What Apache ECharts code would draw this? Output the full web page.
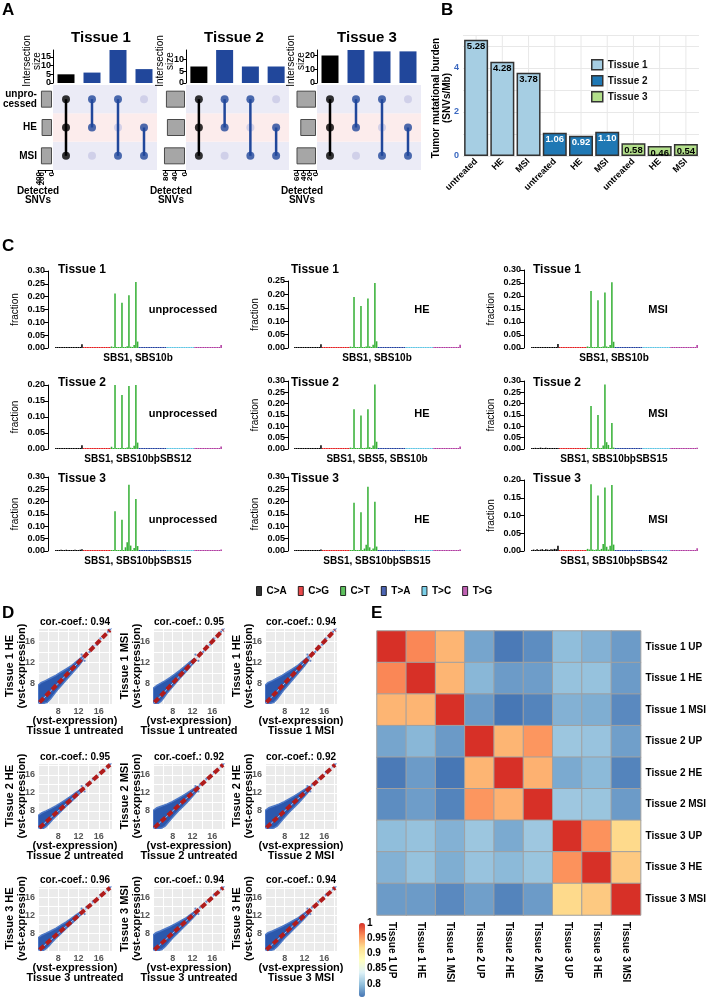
<!DOCTYPE html>
<html><head><meta charset="utf-8">
<title>Figure</title>
<script src="https://cdn.jsdelivr.net/npm/echarts@6.0.0/dist/echarts.min.js"></script>
<style>
html,body{margin:0;padding:0;background:#fff}
#fig{width:709px;height:998px}
</style>
</head>
<body>
<div id="fig"></div>
<script>
// ---------- data: A (upset) ----------
var setNames = ['unprocessed', 'HE', 'MSI'];
var rowLabels = ['unpro-\ncessed', 'HE', 'MSI'];
var comboSets = [[0, 1, 2], [0, 1], [0, 2], [1, 2]];
var interT1 = [5, 6, 19, 8];
var interT2 = [7, 14, 7, 7];
var interT3 = [20, 24, 23, 23];
var setT1 = [330, 310, 330];
var setT2 = [78, 74, 86];
var setT3 = [62, 50, 62];

// ---------- data: B (TMB) ----------
var catsB = ['untreated', 'HE', 'MSI', 'untreated', 'HE', 'MSI', 'untreated', 'HE', 'MSI'];
var tmbT1 = [5.28, 4.28, 3.78];
var tmbT2 = [1.06, 0.92, 1.10];
var tmbT3 = [0.58, 0.46, 0.54];

// ---------- data: C (mutation spectra, 96 contexts) ----------
var mutTypes = ['C>A', 'C>G', 'C>T', 'T>A', 'T>C', 'T>G'];
var mutColors = ['#000000', '#e41a1c', '#36b036', '#1f3f9f', '#5bc4e4', '#b03aa0'];
var cTissue = ['Tissue 1', 'Tissue 1', 'Tissue 1', 'Tissue 2', 'Tissue 2', 'Tissue 2', 'Tissue 3', 'Tissue 3', 'Tissue 3'];
var cTreat = ['unprocessed', 'HE', 'MSI', 'unprocessed', 'HE', 'MSI', 'unprocessed', 'HE', 'MSI'];
var cSbs = ['SBS1, SBS10b', 'SBS1, SBS10b', 'SBS1, SBS10b',
            'SBS1, SBS10b\u00feSBS12', 'SBS1, SBS5, SBS10b', 'SBS1, SBS10b\u00feSBS15',
            'SBS1, SBS10b\u00feSBS15', 'SBS1, SBS10b\u00feSBS15', 'SBS1, SBS10b\u00feSBS42'];
var cMax = [0.30, 0.25, 0.30, 0.20, 0.30, 0.30, 0.30, 0.30, 0.20];
var caBlocks = [
  [0.002,0.001,0.002,0.002,0.001,0.002,0.002,0.001,0.002,0.002,0.003,0.002,0.001,0.002,0.003,0.015],
  [0.002,0.002,0.001,0.002,0.002,0.001,0.002,0.002,0.001,0.002,0.002,0.003,0.002,0.002,0.002,0.014],
  [0.002,0.001,0.002,0.002,0.002,0.001,0.002,0.002,0.002,0.001,0.002,0.002,0.002,0.001,0.003,0.015],
  [0.002,0.002,0.002,0.001,0.002,0.002,0.003,0.002,0.002,0.002,0.001,0.002,0.003,0.002,0.003,0.012],
  [0.002,0.001,0.002,0.002,0.002,0.002,0.001,0.002,0.003,0.002,0.002,0.002,0.002,0.003,0.002,0.016],
  [0.003,0.002,0.005,0.003,0.004,0.006,0.002,0.004,0.005,0.003,0.004,0.002,0.003,0.004,0.002,0.003],
  [0.002,0.004,0.002,0.005,0.003,0.002,0.005,0.003,0.004,0.002,0.003,0.005,0.002,0.004,0.005,0.007],
  [0.002,0.003,0.002,0.004,0.002,0.003,0.004,0.002,0.003,0.004,0.002,0.003,0.003,0.002,0.004,0.006],
  [0.003,0.004,0.002,0.005,0.003,0.004,0.005,0.003,0.005,0.004,0.003,0.005,0.004,0.006,0.005,0.015]
];
var ctBlocks = [
  [0.006,0.003,0.212,0.003,0.001,0.002,0.176,0.002,0.003,0.007,0.206,0.005,0.002,0.012,0.257,0.025],
  [0.005,0.002,0.190,0.003,0.001,0.002,0.157,0.002,0.003,0.006,0.185,0.006,0.002,0.012,0.243,0.025],
  [0.006,0.003,0.219,0.003,0.001,0.002,0.184,0.002,0.003,0.006,0.213,0.006,0.002,0.012,0.253,0.024],
  [0.007,0.003,0.207,0.003,0.001,0.002,0.169,0.002,0.003,0.005,0.197,0.004,0.002,0.010,0.207,0.020],
  [0.006,0.003,0.175,0.003,0.001,0.002,0.148,0.002,0.003,0.006,0.175,0.008,0.002,0.015,0.285,0.032],
  [0.005,0.003,0.190,0.003,0.002,0.003,0.150,0.003,0.004,0.015,0.285,0.030,0.018,0.004,0.115,0.006],
  [0.003,0.002,0.161,0.002,0.001,0.002,0.127,0.002,0.015,0.035,0.269,0.022,0.003,0.012,0.211,0.020],
  [0.004,0.002,0.196,0.002,0.001,0.002,0.157,0.002,0.010,0.025,0.260,0.015,0.003,0.010,0.200,0.018],
  [0.006,0.004,0.188,0.004,0.002,0.004,0.156,0.003,0.006,0.020,0.179,0.012,0.004,0.015,0.186,0.018]
];
var cgLow = [0.001,0.001,0.0008,0.001,0.0012,0.001,0.0008,0.001,0.001,0.0012,0.001,0.0008,0.001,0.001,0.0012,0.001];
var taLow = [0.001,0.0008,0.001,0.0012,0.001,0.0009,0.001,0.0011,0.0008,0.001,0.0012,0.001,0.0009,0.001,0.0011,0.001];
var tcLow = [0.0015,0.002,0.0018,0.0022,0.002,0.0025,0.0018,0.002,0.0022,0.0019,0.0024,0.002,0.0017,0.0021,0.0019,0.0016];
var tgLow = [0.001,0.0009,0.001,0.0011,0.001,0.0008,0.001,0.0012,0.001,0.0009,0.001,0.0011,0.001,0.0012,0.0015];
var tgLast = [0.012, 0.012, 0.012, 0.008, 0.011, 0.006, 0.006, 0.006, 0.008];

// ---------- data: D (expression scatter) ----------
var corD = [0.94, 0.95, 0.94, 0.95, 0.92, 0.92, 0.96, 0.94, 0.94];
var yNameD = ['Tissue 1 HE', 'Tissue 1 MSI', 'Tissue 1 HE', 'Tissue 2 HE', 'Tissue 2 MSI', 'Tissue 2 HE', 'Tissue 3 HE', 'Tissue 3 MSI', 'Tissue 3 HE'];
var xNameD = ['Tissue 1 untreated', 'Tissue 1 untreated', 'Tissue 1 MSI', 'Tissue 2 untreated', 'Tissue 2 untreated', 'Tissue 2 MSI', 'Tissue 3 untreated', 'Tissue 3 untreated', 'Tissue 3 MSI'];
var cloudKind = ['mid', 'narrow', 'mid', 'narrow', 'wide', 'wide', 'narrow', 'mid', 'mid'];
var cloudNarrow = [[4.05,4.1],[4.05,7.0],[4.8,7.6],[5.6,8.0],[6.5,8.5],[7.5,9.1],[8.5,9.8],[9.5,10.5],[10.5,11.3],[11.5,12.1],[12.3,12.7],[12.6,12.3],[11.5,11.1],[10.5,10.0],[9.5,9.0],[8.5,7.9],[7.5,6.8],[6.8,6.0],[6.2,5.2],[5.6,4.5],[5.0,4.1]];
var cloudMid = [[4.05,4.1],[4.05,7.6],[4.6,8.1],[5.5,8.5],[6.5,9.0],[7.5,9.5],[8.5,10.1],[9.5,10.7],[10.5,11.3],[11.5,12.1],[12.5,12.9],[13.0,13.2],[12.8,12.3],[12.0,11.3],[11.0,10.2],[10.0,9.1],[9.0,8.0],[8.0,6.9],[7.2,5.9],[6.5,5.0],[5.8,4.3],[5.0,4.1]];
var cloudWide = [[4.05,4.1],[4.05,8.1],[4.8,8.7],[5.8,9.1],[6.8,9.5],[7.8,10.0],[8.8,10.6],[9.8,11.2],[10.8,11.9],[11.8,12.6],[12.8,13.3],[13.3,13.4],[13.1,12.6],[12.0,11.2],[11.0,10.0],[10.0,8.9],[9.0,7.8],[8.0,6.6],[7.2,5.6],[6.5,4.7],[5.8,4.2],[5.0,4.1]];
var sparsePts = [[12.6,13.5],[13.2,12.3],[13.5,13.8],[14.2,14.0],[14.8,15.1],[15.6,15.4],[16.3,16.6],[17.1,17.0],[17.8,17.9],[18.2,18.3]];
var diagLine = [[4, 4], [18.6, 18.6]];
var redLine = [[4.3, 4.3], [18.2, 18.2]];

// ---------- data: E (correlation heatmap) ----------
var labelsE = ['Tissue 1 UP', 'Tissue 1 HE', 'Tissue 1 MSI', 'Tissue 2 UP', 'Tissue 2 HE', 'Tissue 2 MSI', 'Tissue 3 UP', 'Tissue 3 HE', 'Tissue 3 MSI'];
var corr = [
  [1, 0.962, 0.94, 0.783, 0.76, 0.77, 0.797, 0.79, 0.778],
  [0.962, 1, 0.94, 0.793, 0.778, 0.779, 0.8, 0.8, 0.778],
  [0.94, 0.94, 1, 0.777, 0.758, 0.765, 0.79, 0.788, 0.768],
  [0.783, 0.793, 0.777, 1, 0.94, 0.955, 0.803, 0.801, 0.78],
  [0.76, 0.778, 0.758, 0.94, 1, 0.942, 0.786, 0.795, 0.765],
  [0.77, 0.779, 0.765, 0.955, 0.942, 1, 0.804, 0.802, 0.778],
  [0.797, 0.8, 0.79, 0.803, 0.786, 0.804, 1, 0.957, 0.922],
  [0.79, 0.8, 0.788, 0.801, 0.795, 0.802, 0.957, 1, 0.93],
  [0.778, 0.778, 0.768, 0.78, 0.765, 0.778, 0.922, 0.93, 1]
];
var corrTicks = [0.8, 0.85, 0.9, 0.95, 1];
var heatColors = ['#4575B4', '#91BFDB', '#E0F3F8', '#FFFFBF', '#FEE090', '#FC8D59', '#D73027'];

// ---------- build ----------
var FONT = "'Liberation Sans', Arial, sans-serif";
var UPBLUE = '#21479b';
var grids = [], xAxes = [], yAxes = [], series = [], graphics = [];

function addGrid(g, xa, ya) {
  g.containLabel = false;
  grids.push(g);
  var i = grids.length - 1;
  xa.gridIndex = i; ya.gridIndex = i;
  xAxes.push(xa); yAxes.push(ya);
  return i;
}
function txt(x, y, s, size, o) {
  o = o || {};
  graphics.push({
    type: 'text', x: x, y: y, rotation: o.rot || 0, z: 100, silent: true,
    style: {
      text: s, font: (o.weight || 'bold') + ' ' + size + 'px ' + FONT,
      fill: o.color || '#000', textAlign: o.align || 'center', textVerticalAlign: 'middle',
      lineHeight: o.lh || size + 1
    }
  });
}
function hiddenCat(data) {
  return {type: 'category', data: data, axisLine: {show: false}, axisTick: {show: false}, axisLabel: {show: false}, splitLine: {show: false}};
}
function clone(o) { var r = {}; for (var key in o) r[key] = o[key]; return r; }

// panel letters
txt(2, 10, 'A', 17, {align: 'left'});
txt(441, 10, 'B', 17, {align: 'left'});
txt(2, 246, 'C', 17, {align: 'left'});
txt(2, 613, 'D', 17, {align: 'left'});
txt(371, 613, 'E', 17, {align: 'left'});

// ----- A -----
// tick labels are split over two stacked axes so close labels are all kept
var upsets = [
  {name: 'Tissue 1', inter: interT1, sets: setT1, setMax: 420, setTicks: [0, 200, 400], setLabA: [0, 400], setLabB: [200],
   interMax: 19, interTicks: [0, 5, 10, 15], interLabA: [0, 10], interLabB: [5, 15], sx: 30, mx: 53, mw: 104, tx: 101, labels: true},
  {name: 'Tissue 2', inter: interT2, sets: setT2, setMax: 90, setTicks: [0, 40, 80], setLabA: [0, 80], setLabB: [40],
   interMax: 14, interTicks: [0, 5, 10], interLabA: [0, 10], interLabB: [5], sx: 163, mx: 186, mw: 103, tx: 234, labels: false},
  {name: 'Tissue 3', inter: interT3, sets: setT3, setMax: 70, setTicks: [0, 20, 40, 60], setLabA: [0, 40], setLabB: [20, 60],
   interMax: 24, interTicks: [0, 10, 20], interLabA: [0, 20], interLabB: [10], sx: 294, mx: 317, mw: 104, tx: 367, labels: false}
];
var comboKeys = comboSets.map(function (s, i) { return 'c' + i; });
var rowsUp = setNames.slice().reverse(); // bottom -> top
upsets.forEach(function (u) {
  // intersection bars
  var interRect = {left: u.mx, top: 50, width: u.mw, height: 33};
  var interLab = {fontSize: 9, fontWeight: 'bold', color: '#000', margin: 2, fontFamily: FONT, showMinLabel: true, showMaxLabel: true};
  var la = clone(interLab); la.customValues = u.interLabA;
  var gi = addGrid(clone(interRect),
    hiddenCat(comboKeys),
    {type: 'value', min: 0, max: u.interMax,
     axisLine: {show: true, lineStyle: {color: '#000', width: 1}},
     axisTick: {show: true, length: 3, customValues: u.interTicks, lineStyle: {color: '#000'}},
     axisLabel: la, splitLine: {show: false}});
  var lb = clone(interLab); lb.customValues = u.interLabB;
  addGrid(clone(interRect), hiddenCat(comboKeys),
    {type: 'value', min: 0, max: u.interMax, axisLine: {show: false}, axisTick: {show: false}, axisLabel: lb, splitLine: {show: false}});
  series.push({type: 'bar', xAxisIndex: gi, yAxisIndex: gi, barWidth: 17,
    data: u.inter.map(function (v, i) { return {value: v, itemStyle: {color: i === 0 ? '#000' : UPBLUE}}; })});
  txt(u.mx - 21, 61, 'Intersection\nsize', 10, {rot: Math.PI / 2, weight: 'normal', lh: 10});

  // matrix
  var gm = addGrid({left: u.mx, top: 85, width: u.mw, height: 85},
    hiddenCat(comboKeys),
    {type: 'category', data: rowsUp, axisLine: {show: false}, axisTick: {show: false}, axisLabel: {show: false},
     splitLine: {show: false}, splitArea: {show: true, areaStyle: {color: ['#ebebf6', '#fcecec', '#ebebf6']}}});
  var inactive = [], active = [], segs = [];
  comboSets.forEach(function (s, c) {
    var rows = s.map(function (k) { return 2 - k; });
    segs.push([c, Math.min.apply(null, rows), Math.max.apply(null, rows)]);
    [0, 1, 2].forEach(function (k) {
      if (s.indexOf(k) >= 0) active.push({value: [c, 2 - k], itemStyle: {color: c === 0 ? '#000' : UPBLUE}});
      else inactive.push([c, 2 - k]);
    });
  });
  series.push({type: 'custom', xAxisIndex: gm, yAxisIndex: gm, data: segs, encode: {x: 0, y: [1, 2]}, z: 3,
    renderItem: function (params, api) {
      var a = api.coord([api.value(0), api.value(1)]), b = api.coord([api.value(0), api.value(2)]);
      return {type: 'line', shape: {x1: a[0], y1: a[1], x2: b[0], y2: b[1]},
              style: {stroke: api.value(0) === 0 ? '#000' : UPBLUE, lineWidth: 2.5}};
    }});
  series.push({type: 'scatter', xAxisIndex: gm, yAxisIndex: gm, symbolSize: 8, data: inactive, itemStyle: {color: '#c9c9e6'}, z: 2});
  series.push({type: 'scatter', xAxisIndex: gm, yAxisIndex: gm, symbolSize: 8, data: active, z: 4});

  // set sizes
  var setRect = {left: u.sx, top: 85, width: 22, height: 85};
  var setLab = {rotate: 90, fontSize: 8, fontWeight: 'bold', color: '#000', margin: 2, fontFamily: FONT, showMinLabel: true, showMaxLabel: true};
  var sa = clone(setLab); sa.customValues = u.setLabA;
  var gs = addGrid(clone(setRect),
    {type: 'value', inverse: true, min: 0, max: u.setMax, position: 'bottom',
     axisLine: {show: true, lineStyle: {color: '#000'}},
     axisTick: {show: true, length: 3, customValues: u.setTicks, lineStyle: {color: '#000'}},
     axisLabel: sa, splitLine: {show: false}},
    {type: 'category', data: rowsUp, axisLine: {show: false}, axisTick: {show: false}, splitLine: {show: false},
     axisLabel: {show: u.labels, fontSize: 10, fontWeight: 'bold', color: '#000', margin: 1, lineHeight: 10, fontFamily: FONT,
       formatter: function (v) { return rowLabels[setNames.indexOf(v)]; }}});
  var sb = clone(setLab); sb.customValues = u.setLabB;
  addGrid(clone(setRect),
    {type: 'value', inverse: true, min: 0, max: u.setMax, position: 'bottom', axisLine: {show: false}, axisTick: {show: false},
     axisLabel: sb, splitLine: {show: false}},
    hiddenCat(rowsUp));
  series.push({type: 'bar', xAxisIndex: gs, yAxisIndex: gs, barWidth: 17,
    itemStyle: {color: '#a6a6a6', borderColor: '#4a4a4a', borderWidth: 1},
    data: rowsUp.map(function (r) { return u.sets[setNames.indexOf(r)]; })});
  txt(u.sx + 8, 191, 'Detected', 10);
  txt(u.sx + 8, 200, 'SNVs', 10);
  txt(u.tx, 38, u.name, 15);
});

// ----- B -----
var gb = addGrid({left: 463, top: 35, width: 236, height: 121},
  {type: 'category', data: catsB, axisLine: {show: false}, axisTick: {show: false}, splitLine: {show: false},
   axisLabel: {rotate: 45, fontSize: 9, fontWeight: 'bold', color: '#000', margin: 4, interval: 0, fontFamily: FONT}},
  {type: 'value', min: 0, max: 5.5, interval: 1, axisLine: {show: false}, axisTick: {show: false},
   splitLine: {show: true, lineStyle: {color: '#e8e8e8', width: 1}},
   axisLabel: {fontSize: 9, fontWeight: 'bold', color: '#3a68c0', margin: 4, fontFamily: FONT,
     formatter: function (v) { return (v % 2 === 0 && v <= 4) ? String(v) : ''; }}});
series.push({type: 'custom', xAxisIndex: gb, yAxisIndex: gb, z: 1, silent: true,
  data: catsB.map(function (c, i) { return [i, 0]; }),
  renderItem: function (params, api) {
    var a = api.coord([api.value(0), 0]), b = api.coord([api.value(0), 5.5]);
    return {type: 'line', shape: {x1: a[0], y1: a[1], x2: b[0], y2: b[1]}, style: {stroke: '#e8e8e8', lineWidth: 1}};
  }});
var tmbSets = [['Tissue 1', tmbT1, '#a6cee3', '#000', 0], ['Tissue 2', tmbT2, '#1f78b4', '#fff', 3], ['Tissue 3', tmbT3, '#b2df8a', '#000', 6]];
tmbSets.forEach(function (t) {
  var d = catsB.map(function () { return '-'; });
  t[1].forEach(function (v, i) { d[t[4] + i] = v; });
  series.push({type: 'bar', name: t[0], stack: 'tmb', xAxisIndex: gb, yAxisIndex: gb, barWidth: 24, z: 2, data: d,
    itemStyle: {color: t[2], borderColor: '#333', borderWidth: 1.5},
    label: {show: true, position: 'insideTop', distance: 2, fontSize: 9.5, fontWeight: 'bold', color: t[3], fontFamily: FONT,
      formatter: function (p) { return Number(p.value).toFixed(2); }}});
});
txt(442, 98, 'Tumor mutational burden\n(SNVs/Mb)', 10, {rot: Math.PI / 2, lh: 11});

// ----- C -----
var cLeft = [55, 294, 531], cAxisX = [48, 288, 524];
var cBottom = [348, 449, 551];
var cTop = [271, 281, 270, 385, 381, 381, 477, 477, 480];
var cTitleX = [58, 291, 533];
var cTreatX = [183, 422, 658];
var cTreatY = [310, 414, 520];
var cTitleY = [270, 383, 479];
var idx96 = [];
for (var q = 0; q < 96; q++) idx96.push(String(q));
var firstC = -1;
for (var p = 0; p < 9; p++) {
  var row = Math.floor(p / 3), col = p % 3;
  var spec = caBlocks[p].concat(cgLow, ctBlocks[p], taLow, tcLow, tgLow, [tgLast[p]]);
  var gc = addGrid({left: cLeft[col], top: cTop[p], width: 167, height: cBottom[row] - cTop[p]},
    hiddenCat(idx96),
    {type: 'value', min: 0, max: cMax[p], interval: 0.05, offset: cLeft[col] - cAxisX[col],
     axisLine: {show: true, lineStyle: {color: '#000', width: 1}},
     axisTick: {show: true, length: 4, lineStyle: {color: '#000'}},
     axisLabel: {fontSize: 9, fontWeight: 'bold', color: '#000', margin: 3, fontFamily: FONT,
       formatter: function (v) { return v.toFixed(2); }},
     splitLine: {show: false}});
  if (firstC < 0) firstC = gc;
  series.push({type: 'bar', xAxisIndex: gc, yAxisIndex: gc, barCategoryGap: '12%', barMinHeight: 1, data: spec,
    itemStyle: {color: function (pp) { return mutColors[Math.floor(pp.dataIndex / 16)]; }}});
  var mid = (cTop[p] + cBottom[row]) / 2;
  txt(cAxisX[col] - 33, mid, 'fraction', 10, {rot: Math.PI / 2, weight: 'normal'});
  txt(cTitleX[col], cTitleY[row], cTissue[p], 12, {align: 'left'});
  txt(cTreatX[col], cTreatY[row], cTreat[p], 11);
  txt(cLeft[col] + 83, cBottom[row] + 10, cSbs[p], 10);
}
// legend carriers
mutTypes.forEach(function (m, i) {
  series.push({type: 'scatter', name: m, xAxisIndex: firstC, yAxisIndex: firstC, data: [], itemStyle: {color: mutColors[i]}});
});

// ----- D -----
var dLeft = [38, 153, 265], dWidth = [74, 72, 72];
var dTop = [628, 763, 886], dHeight = [76, 66, 65];
var clouds = {narrow: cloudNarrow, mid: cloudMid, wide: cloudWide};
function dAxis() {
  return {type: 'value', min: 4, max: 18.6, interval: 2,
    axisLine: {show: false}, axisTick: {show: false},
    splitLine: {show: true, lineStyle: {color: '#ffffff', width: 1}},
    axisLabel: {fontSize: 9, fontWeight: 'bold', color: '#555', margin: 3, fontFamily: FONT, showMaxLabel: false,
      formatter: function (v) { return (v === 8 || v === 12 || v === 16) ? String(v) : ''; }}};
}
for (var k = 0; k < 9; k++) {
  var r = Math.floor(k / 3), c = k % 3;
  var gd = addGrid({left: dLeft[c], top: dTop[r], width: dWidth[c], height: dHeight[r], show: true, backgroundColor: '#ebebeb', borderWidth: 0},
    dAxis(), dAxis());
  series.push({type: 'custom', xAxisIndex: gd, yAxisIndex: gd, data: clouds[cloudKind[k]], encode: {x: 0, y: 1}, z: 2, clip: true,
    renderItem: (function (poly) {
      return function (params, api) {
        if (params.dataIndex !== 0) return;
        var pts = poly.map(function (pt) { return api.coord(pt); });
        return {type: 'polygon', shape: {points: pts}, style: {fill: '#2b58ad', stroke: '#4d78c6', lineWidth: 1.5}};
      };
    })(clouds[cloudKind[k]])});
  series.push({type: 'scatter', xAxisIndex: gd, yAxisIndex: gd, data: sparsePts, symbolSize: 2.2, itemStyle: {color: '#4a72c0', opacity: 0.8}, z: 3});
  series.push({type: 'line', xAxisIndex: gd, yAxisIndex: gd, data: diagLine, symbol: 'none', lineStyle: {color: '#a9bde8', width: 1}, z: 3});
  series.push({type: 'line', xAxisIndex: gd, yAxisIndex: gd, data: redLine, symbol: 'none', lineStyle: {color: '#b01c1c', width: 4, type: [6, 3]}, z: 4});
  var cx = dLeft[c] + dWidth[c] / 2;
  txt(cx, dTop[r] - 6, 'cor.-coef.: ' + corD[k].toFixed(2), 10);
  txt(dLeft[c] - 22, dTop[r] + dHeight[r] / 2, yNameD[k] + '\n(vst-expression)', 11, {rot: Math.PI / 2, lh: 12});
  txt(cx, dTop[r] + dHeight[r] + 17, '(vst-expression)', 11);
  txt(cx, dTop[r] + dHeight[r] + 27, xNameD[k], 11);
}

// ----- E -----
var ge = addGrid({left: 377, top: 631, width: 276, height: 284},
  {type: 'category', data: labelsE, position: 'bottom', axisLine: {show: false}, axisTick: {show: false}, splitLine: {show: false},
   axisLabel: {rotate: -90, fontSize: 10, fontWeight: 'bold', color: '#000', margin: 7, interval: 0, fontFamily: FONT}},
  {type: 'category', data: labelsE, inverse: true, position: 'right', axisLine: {show: false}, axisTick: {show: false}, splitLine: {show: false},
   axisLabel: {fontSize: 10, fontWeight: 'bold', color: '#000', margin: 5, interval: 0, fontFamily: FONT}});
var heatData = [];
corr.forEach(function (rowv, i) { rowv.forEach(function (v, j) { heatData.push([j, i, v]); }); });
var heatIndex = series.length;
series.push({type: 'heatmap', xAxisIndex: ge, yAxisIndex: ge, data: heatData,
  itemStyle: {borderColor: '#a0a0a0', borderWidth: 1}});
addGrid({left: 359, top: 923, width: 6, height: 74},
  {type: 'value', min: 0, max: 1, show: false},
  {type: 'value', min: 0.757, max: 1, position: 'right', axisLine: {show: false}, axisTick: {show: false}, splitLine: {show: false},
   axisLabel: {customValues: corrTicks, fontSize: 10, fontWeight: 'bold', color: '#000', margin: 2, fontFamily: FONT,
     showMinLabel: true, showMaxLabel: true}});

var option = {
  backgroundColor: '#fff',
  animation: false,
  textStyle: {fontFamily: FONT},
  grid: grids,
  xAxis: xAxes,
  yAxis: yAxes,
  series: series,
  legend: [
    {data: ['Tissue 1', 'Tissue 2', 'Tissue 3'], left: 586, top: 54, orient: 'vertical', itemWidth: 11, itemHeight: 10, itemGap: 4.5,
     selectedMode: false, icon: 'rect', itemStyle: {borderColor: '#333', borderWidth: 1.5},
     textStyle: {fontSize: 10, fontWeight: 'bold', color: '#111', fontFamily: FONT}},
    {data: mutTypes, left: 251, top: 581, orient: 'horizontal', itemWidth: 5, itemHeight: 9, itemGap: 11,
     selectedMode: false, icon: 'rect', itemStyle: {borderColor: '#000', borderWidth: 1},
     textStyle: {fontSize: 10, fontWeight: 'bold', color: '#000', fontFamily: FONT}}
  ],
  visualMap: [{type: 'continuous', seriesIndex: heatIndex, min: 0.757, max: 1, calculable: false, show: true,
    left: 359, top: 923, itemWidth: 6, itemHeight: 74, padding: 0, text: null, inRange: {color: heatColors}}],
  graphic: {elements: graphics}
};
var chart = echarts.init(document.getElementById('fig'));
chart.setOption(option);
</script>
</body></html>
